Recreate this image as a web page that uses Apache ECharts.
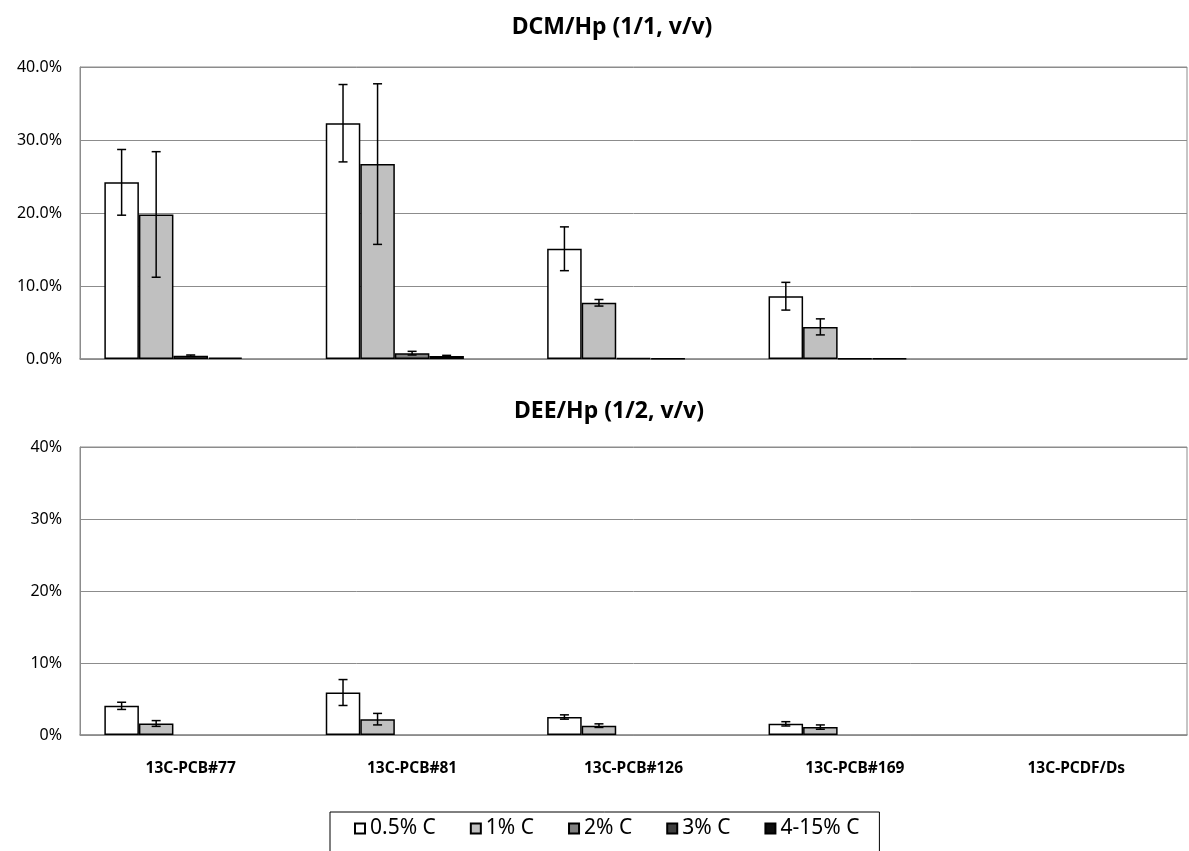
<!DOCTYPE html>
<html>
<head>
<meta charset="utf-8">
<script src="https://cdn.jsdelivr.net/npm/echarts@6/dist/echarts.min.js"></script>
<style>
  html, body { margin: 0; padding: 0; background: #fff; }
  #chart { width: 1189px; height: 851px; }
</style>
</head>
<body>
<div id="chart"></div>
<script>
// categories and legend
const categories = ['13C-PCB#77', '13C-PCB#81', '13C-PCB#126', '13C-PCB#169', '13C-PCDF/Ds']
const seriesNames = ['0.5% C', '1% C', '2% C', '3% C', '4-15% C']
const seriesColors = ['#ffffff', '#c0c0c0', '#808080', '#404040', '#0d0d0d']

// DCM/Hp (1/1, v/v) - recovery in %
const dcm05 = [24.2, 32.3, 15.1, 8.6, null]
const dcm1 = [19.8, 26.7, 7.7, 4.4, null]
const dcm2 = [0.45, 0.8, 0.12, 0.1, null]
const dcm3 = [0.2, 0.4, 0.1, 0.1, null]
const dcm415 = [null, null, null, null, null]
const dcm05Err = [4.5, 5.3, 3.0, 1.9, 0]
const dcm1Err = [8.6, 11.0, 0.45, 1.1, 0]
const dcm2Err = [0.1, 0.25, 0, 0, 0]
const dcm3Err = [0, 0.1, 0, 0, 0]
const dcm415Err = [0, 0, 0, 0, 0]

// DEE/Hp (1/2, v/v)
const dee05 = [4.05, 5.9, 2.5, 1.55, null]
const dee1 = [1.6, 2.2, 1.3, 1.1, null]
const dee2 = [null, null, null, null, null]
const dee3 = [null, null, null, null, null]
const dee415 = [null, null, null, null, null]
const dee05Err = [0.5, 1.8, 0.3, 0.3, 0]
const dee1Err = [0.4, 0.8, 0.25, 0.3, 0]
const dee2Err = [0, 0, 0, 0, 0]
const dee3Err = [0, 0, 0, 0, 0]
const dee415Err = [0, 0, 0, 0, 0]

// y-axis ticks
const yMin = 0
const yMax = 40
const yStep = 10

const CAT_GAP = 0.22
const FONT = "'Noto Sans', 'Liberation Sans', sans-serif"

const chart = echarts.init(document.getElementById('chart'))

function barSeries(name, data, i, gridIdx) {
  return {
    name: name,
    type: 'bar',
    xAxisIndex: gridIdx,
    yAxisIndex: gridIdx,
    data: data,
    barGap: '0%',
    barCategoryGap: (CAT_GAP * 100) + '%',
    itemStyle: { color: seriesColors[i], borderColor: '#000', borderWidth: 1.5 },
    emphasis: { disabled: true },
    animation: false
  }
}

function errSeries(values, errs, i, gridIdx) {
  return {
    name: 'err' + gridIdx + '_' + i,
    type: 'custom',
    xAxisIndex: gridIdx,
    yAxisIndex: gridIdx,
    z: 5,
    silent: true,
    animation: false,
    data: values.map((v, k) => [k, v == null ? 0 : v, errs[k]]),
    renderItem: function (params, api) {
      const cat = api.value(0)
      const val = api.value(1)
      const err = api.value(2)
      if (!err) return null
      const band = api.size([1, 0])[0]
      const bw = band * (1 - CAT_GAP) / 5
      const x = api.coord([cat, val])[0] + (i - 2) * bw
      const yTop = api.coord([cat, val + err])[1]
      const yBot = api.coord([cat, val - err])[1]
      const cap = 4.5
      const style = { stroke: '#000', lineWidth: 1.5 }
      return {
        type: 'group',
        children: [
          { type: 'line', shape: { x1: x, y1: yTop, x2: x, y2: yBot }, style: style },
          { type: 'line', shape: { x1: x - cap, y1: yTop, x2: x + cap, y2: yTop }, style: style },
          { type: 'line', shape: { x1: x - cap, y1: yBot, x2: x + cap, y2: yBot }, style: style }
        ]
      }
    }
  }
}

const dcmVals = [dcm05, dcm1, dcm2, dcm3, dcm415]
const dcmErrs = [dcm05Err, dcm1Err, dcm2Err, dcm3Err, dcm415Err]
const deeVals = [dee05, dee1, dee2, dee3, dee415]
const deeErrs = [dee05Err, dee1Err, dee2Err, dee3Err, dee415Err]

const series = []
dcmVals.forEach((d, i) => series.push(barSeries(seriesNames[i], d, i, 0)))
deeVals.forEach((d, i) => series.push(barSeries(seriesNames[i], d, i, 1)))
dcmVals.forEach((d, i) => series.push(errSeries(d, dcmErrs[i], i, 0)))
deeVals.forEach((d, i) => series.push(errSeries(d, deeErrs[i], i, 1)))

function yAxis(gridIdx, decimals) {
  return {
    type: 'value',
    gridIndex: gridIdx,
    min: yMin,
    max: yMax,
    interval: yStep,
    axisLine: { show: true, lineStyle: { color: '#8c8c8c', width: 1 } },
    axisTick: { show: false },
    axisLabel: {
      margin: 18,
      color: '#000',
      fontFamily: FONT,
      fontSize: 16,
      formatter: v => v.toFixed(decimals) + '%'
    },
    splitLine: { show: true, lineStyle: { color: '#8c8c8c', width: 1 } }
  }
}

function xAxis(gridIdx, showLabels) {
  return {
    type: 'category',
    gridIndex: gridIdx,
    data: categories,
    axisLine: { show: true, lineStyle: { color: '#8c8c8c', width: 1.5 } },
    axisTick: { show: false },
    axisLabel: {
      show: showLabels,
      margin: 26,
      color: '#000',
      fontFamily: FONT,
      fontWeight: 'bold',
      fontSize: 15.5
    }
  }
}

const option = {
  backgroundColor: '#fff',
  animation: false,
  title: [
    {
      text: 'DCM/Hp (1/1, v/v)',
      left: 607, top: 11, textAlign: 'center',
      textStyle: { fontFamily: FONT, fontWeight: 'bold', fontSize: 23, color: '#000' }
    },
    {
      text: 'DEE/Hp (1/2, v/v)',
      left: 604, top: 395, textAlign: 'center',
      textStyle: { fontFamily: FONT, fontWeight: 'bold', fontSize: 23, color: '#000' }
    }
  ],
  legend: {
    data: seriesNames,
    icon: 'rect',
    left: 330,
    top: 812,
    padding: [6, 20, 14, 24],
    itemGap: 34,
    itemWidth: 10,
    itemHeight: 10,
    borderColor: '#000',
    borderWidth: 1,
    selectedMode: false,
    textStyle: { fontFamily: FONT, fontSize: 21, color: '#000' }
  },
  grid: [
    { left: 80, top: 67, width: 1107, height: 292, show: true, borderColor: '#8c8c8c', borderWidth: 1, backgroundColor: 'transparent' },
    { left: 80, top: 447, width: 1107, height: 288, show: true, borderColor: '#8c8c8c', borderWidth: 1, backgroundColor: 'transparent' }
  ],
  xAxis: [xAxis(0, false), xAxis(1, true)],
  yAxis: [yAxis(0, 1), yAxis(1, 0)],
  series: series
}

chart.setOption(option)
</script>
</body>
</html>
